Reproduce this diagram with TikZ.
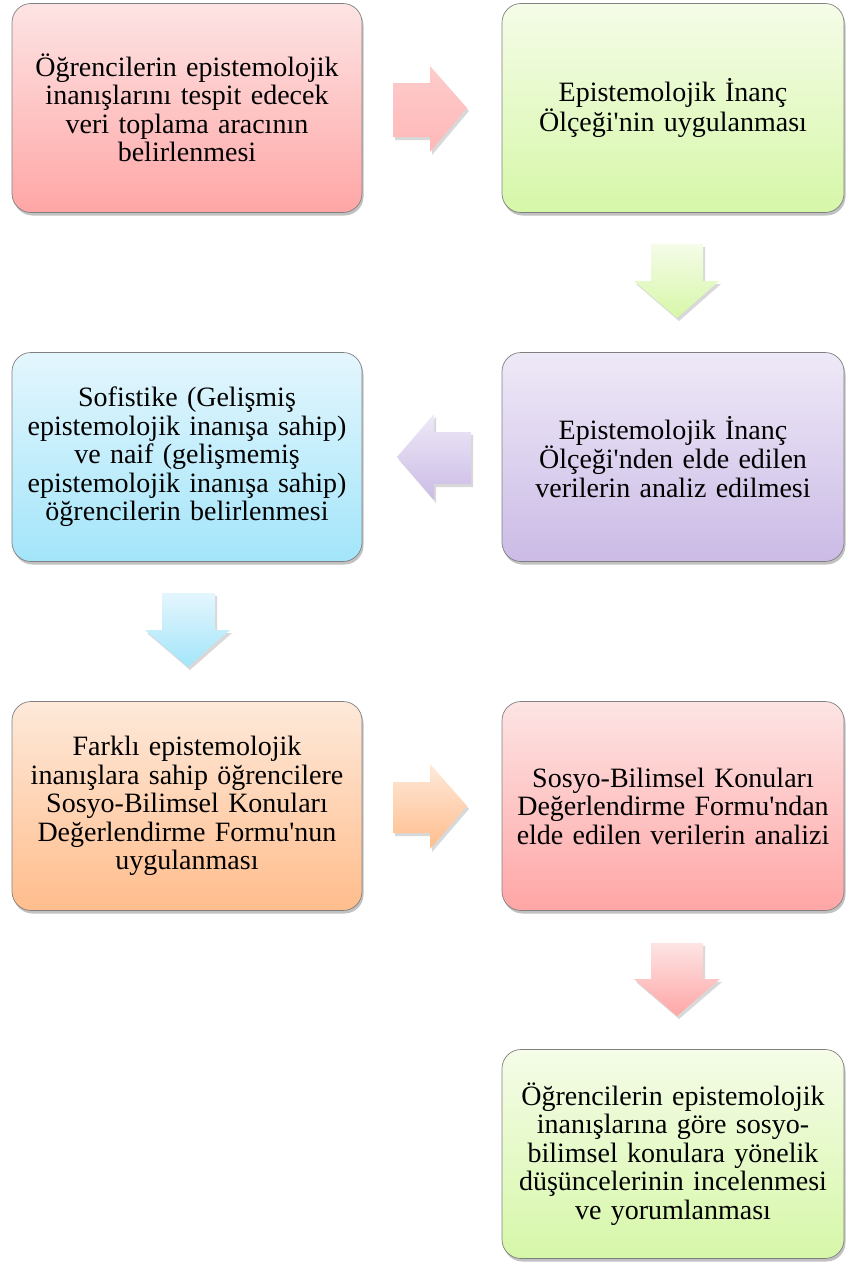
\documentclass[tikz,border=0pt]{standalone}
\usepackage{fontspec}
\setmainfont{Liberation Serif}[Ligatures=TeXOff]
\usetikzlibrary{shadows}
\definecolor{pinkT}{RGB}{253,228,228}
\definecolor{pinkB}{RGB}{255,166,166}
\definecolor{greenT}{RGB}{245,252,232}
\definecolor{greenB}{RGB}{214,247,168}
\definecolor{purpT}{RGB}{238,233,247}
\definecolor{purpB}{RGB}{203,187,230}
\definecolor{cyanT}{RGB}{228,246,253}
\definecolor{cyanB}{RGB}{163,229,250}
\definecolor{orT}{RGB}{254,233,218}
\definecolor{orB}{RGB}{255,189,140}
\tikzset{
  box/.style={rectangle, rounded corners=19pt, draw=black!50, line width=0.7pt,
    minimum height=209pt, inner sep=0pt, align=center,
    font=\fontsize{28}{28.5}\selectfont,
    drop shadow={shadow xshift=1.5pt, shadow yshift=-3pt, opacity=0.35, fill=black!70}},
  leftbox/.style={box, minimum width=350pt, text width=340pt},
  rightbox/.style={box, minimum width=342pt, text width=334pt},
  blockarrow/.style={draw=none,
    drop shadow={shadow xshift=2pt, shadow yshift=-3pt, opacity=0.22, fill=black!70}}
}
\begin{document}
\begin{tikzpicture}[x=1pt,y=-1pt]
\useasboundingbox (0,0) rectangle (846,1263);
\node[leftbox, top color=pinkT, bottom color=pinkB] (b1) at (187,108)
  {Öğrencilerin epistemolojik\\inanışlarını tespit edecek\\veri toplama aracının\\belirlenmesi};
\node[rightbox, top color=greenT, bottom color=greenB] (b2) at (673,108)
  {Epistemolojik İnanç\\Ölçeği'nin uygulanması};
\node[rightbox, top color=purpT, bottom color=purpB] (b3) at (673,457)
  {Epistemolojik İnanç\\Ölçeği'nden elde edilen\\verilerin analiz edilmesi};
\node[leftbox, top color=cyanT, bottom color=cyanB] (b4) at (187,457)
  {Sofistike (Gelişmiş\\epistemolojik inanışa sahip)\\ve naif (gelişmemiş\\epistemolojik inanışa sahip)\\öğrencilerin belirlenmesi};
\node[leftbox, top color=orT, bottom color=orB] (b5) at (187,806)
  {Farklı epistemolojik\\inanışlara sahip öğrencilere\\Sosyo-Bilimsel Konuları\\Değerlendirme Formu'nun\\uygulanması};
\node[rightbox, top color=pinkT, bottom color=pinkB] (b6) at (673,806)
  {Sosyo-Bilimsel Konuları\\Değerlendirme Formu'ndan\\elde edilen verilerin analizi};
\node[rightbox, top color=greenT, bottom color=greenB] (b7) at (673,1154)
  {Öğrencilerin epistemolojik\\inanışlarına göre sosyo-\\bilimsel konulara yönelik\\düşüncelerinin incelenmesi\\ve yorumlanması};
% block arrows
\path[blockarrow, top color=pinkT!60!pinkB, bottom color=pinkB!80!white]
  (393,83) -- (430,83) -- (430,66) -- (467,108) -- (430,152) -- (430,137) -- (393,137) -- cycle;
\path[blockarrow, top color=greenT, bottom color=greenB]
  (651,244) -- (703,244) -- (703,281) -- (719,281) -- (677,318) -- (634,281) -- (651,281) -- cycle;
\path[blockarrow, top color=purpT, bottom color=purpB]
  (471,432) -- (434,432) -- (434,414) -- (397,457) -- (434,500) -- (434,484) -- (471,484) -- cycle;
\path[blockarrow, top color=cyanT, bottom color=cyanB]
  (162,593) -- (215,593) -- (215,630) -- (230,630) -- (188,667) -- (145,630) -- (162,630) -- cycle;
\path[blockarrow, top color=orT, bottom color=orB]
  (393,782) -- (430,782) -- (430,764) -- (467,806) -- (430,849) -- (430,833) -- (393,833) -- cycle;
\path[blockarrow, top color=pinkT, bottom color=pinkB]
  (651,943) -- (703,943) -- (703,979) -- (720,979) -- (677,1016) -- (634,979) -- (651,979) -- cycle;
\end{tikzpicture}
\end{document}
